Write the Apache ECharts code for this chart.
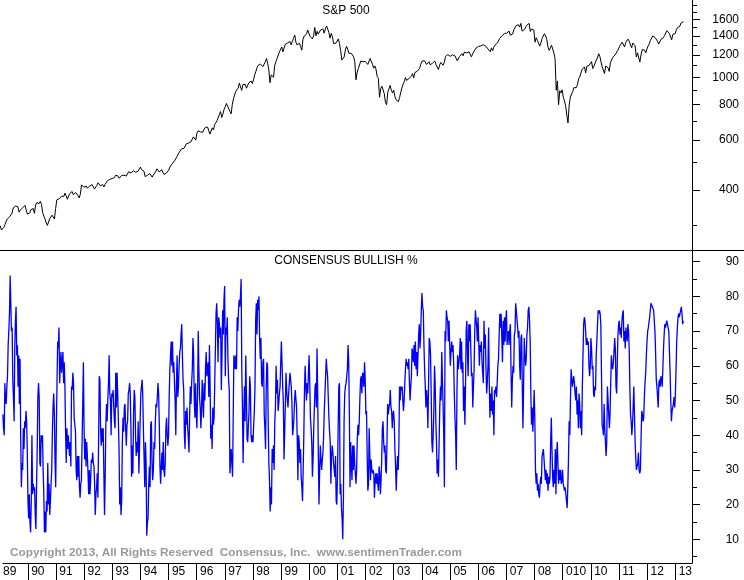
<!DOCTYPE html>
<html><head><meta charset="utf-8">
<script src="https://cdn.jsdelivr.net/npm/echarts@6/dist/echarts.min.js"></script>
<style>html,body{margin:0;padding:0;background:#fff}#c{width:744px;height:580px}</style>
</head><body><div id="c"></div>
<script>
// S&P 500, semi-monthly (mid-month, month-end) from mid-Feb 1989 to mid-Apr 2013
const spStart = 1989.125;
const spStep = 1 / 24;
const spValues = [
299,289,292,295,302,310,316,321,322,318,331,346,346,351,346,349,334,340,341,346,351,353,
340,329,333,332,341,340,344,331,354,361,363,358,365,356,333,323,316,306,300,304,317,322,326,330,
316,344,369,367,373,375,380,375,380,390,381,371,381,388,385,395,385,388,392,392,382,375,387,417,
418,409,413,413,406,404,413,415,418,415,403,408,415,424,419,414,419,418,410,419,422,431,433,436,
435,439,434,443,451,452,448,440,440,450,447,451,446,448,452,464,461,459,465,468,463,462,463,466,
474,482,472,467,466,446,446,451,455,457,458,444,452,458,465,475,468,463,469,472,462,454,455,459,
465,470,482,487,495,501,507,515,525,533,544,545,559,562,561,562,583,584,586,582,592,605,616,616,
600,636,647,640,641,646,640,654,665,669,667,671,630,640,663,652,680,687,702,705,738,757,721,741,
770,786,808,791,789,757,743,801,841,848,893,885,916,954,925,899,942,947,944,915,928,955,963,970,
950,980,1020,1049,1080,1102,1110,1112,1108,1091,1098,1134,1165,1121,1063,957,1020,1017,1000,1099,1136,1164,1180,1229,
1243,1280,1230,1238,1307,1286,1322,1335,1338,1302,1340,1373,1410,1329,1300,1320,1320,1283,1247,1363,1397,1389,1420,1469,
1465,1394,1388,1366,1400,1499,1400,1452,1420,1421,1470,1455,1480,1431,1480,1518,1480,1437,1374,1429,1390,1315,1320,1320,
1320,1366,1315,1240,1150,1160,1180,1249,1285,1256,1215,1224,1215,1211,1180,1134,980,1041,1073,1060,1140,1139,1135,1148,
1138,1130,1110,1107,1165,1147,1111,1077,1097,1067,1007,990,850,912,930,916,875,815,800,886,910,936,900,880,
901,856,834,841,820,848,885,917,946,964,998,975,990,990,990,1008,1030,996,1039,1051,1050,1058,1075,1112,
1139,1131,1145,1145,1110,1126,1135,1107,1090,1121,1130,1141,1106,1102,1065,1104,1128,1115,1103,1130,1184,1174,1203,1212,
1185,1181,1200,1204,1190,1181,1143,1157,1185,1192,1211,1191,1227,1234,1220,1220,1230,1229,1180,1207,1232,1249,1268,1248,
1285,1280,1290,1281,1303,1295,1290,1311,1260,1270,1230,1270,1240,1277,1298,1304,1320,1336,1369,1378,1401,1401,1427,1418,
1431,1438,1456,1407,1387,1421,1472,1482,1522,1531,1533,1503,1549,1455,1445,1474,1484,1527,1549,1549,1451,1481,1490,1468,
1330,1379,1350,1331,1288,1323,1370,1386,1425,1400,1360,1280,1245,1267,1298,1283,1220,1165,900,969,800,896,880,903,
850,826,790,735,690,798,850,873,890,919,925,919,940,987,1005,1021,1068,1057,1087,1036,1094,1096,1102,1115,
1136,1074,1094,1104,1150,1169,1212,1187,1135,1089,1090,1031,1096,1102,1080,1049,1125,1141,1176,1183,1200,1181,1240,1258,
1290,1286,1330,1327,1280,1326,1320,1364,1340,1345,1270,1321,1316,1292,1180,1219,1216,1131,1200,1253,1250,1247,1220,1258,
1290,1312,1350,1366,1400,1408,1380,1398,1340,1310,1330,1362,1360,1379,1405,1407,1460,1441,1430,1412,1355,1416,1420,1426,
1472,1498,1520,1515,1555,1569,1570
];

// Consensus Bullish %, evenly spaced from Feb 1989 to Apr 2013
const bullStart = 1989.116;
const bullEnd = 2013.286;
const bullValues = [
46,42,40,55,50,49,54,57,66,70,75,86,78,70,71,56,51,44,65,73,77,63,66,54,63,49,62,39,25,32,30,42,36,44,42,47,44,35,21,16,23,15,12,21,40,23,26,24,25,17,13,25,36,51,55,51,32,31,40,38,40,30,23,12,18,12,21,18,32,20,26,17,21,26,30,41,48,52,46,33,25,42,55,67,65,71,55,60,64,58,61,64,55,61,54,41,32,42,36,40,37,34,38,31,54,53,58,55,45,43,41,30,27,34,28,34,25,22,26,27,38,49,61,42,33,39,31,38,34,29,23,30,23,27,33,32,35,32,31,26,17,23,25,29,22,38,57,56,42,37,42,38,42,29,17,28,43,49,44,50,55,63,52,50,40,52,51,53,48,44,42,58,48,
58,52,44,36,20,25,17,21,38,45,41,48,49,42,37,43,44,52,53,55,52,42,28,37,29,46,53,51,40,34,38,35,44,29,36,44,52,54,56,51,41,33,25,38,32,11,15,16,26,31,25,43,44,32,27,30,38,36,44,49,48,51,55,52,43,31,26,31,35,30,38,30,28,32,42,45,40,37,40,51,59,63,67,60,67,58,61,55,50,40,55,63,51,54,60,64,65,69,72,63,56,53,40,36,47,43,48,42,39,35,46,54,49,55,59,68,63,50,45,55,46,42,52,70,59,51,48,42,47,56,50,45,55,50,59,64,57,59,61,51,66,54,39,43,36,48,43,45,55,65,75,78,72,61,74,72,68,71,53,63,76,69,79,83,57,71,69,74,62,56,53,29,29,36,
36,28,45,63,62,59,63,59,74,70,76,79,77,80,85,59,48,32,45,54,44,63,52,39,38,43,47,57,54,40,38,40,38,43,47,54,73,78,69,79,76,80,68,62,68,55,54,61,62,46,42,36,53,61,60,44,32,27,18,25,20,36,32,37,30,44,48,60,52,56,47,49,52,54,61,67,67,54,49,33,41,49,58,53,50,48,52,55,58,56,54,49,40,42,45,50,53,53,48,39,27,40,38,32,36,28,25,21,30,40,53,60,54,50,55,52,58,63,55,45,42,38,28,33,42,48,54,55,48,65,52,34,20,30,37,33,30,33,35,40,47,52,57,62,59,57,51,45,41,38,26,34,37,35,32,30,28,34,21,20,29,42,54,55,23,26,19,16,10,22,44,52,54,55,
55,59,66,61,46,25,38,32,27,37,30,37,32,29,26,30,39,43,40,44,51,56,57,52,58,57,54,61,56,46,47,34,24,26,42,34,27,33,30,29,30,29,22,27,29,26,29,26,24,31,29,23,27,33,42,44,38,35,37,30,29,38,49,46,48,49,53,48,47,42,46,47,44,36,31,24,30,34,30,37,54,50,54,53,54,50,47,50,55,59,62,60,61,59,62,55,50,54,57,65,64,61,66,60,67,59,64,57,63,69,72,65,69,76,81,77,76,66,59,54,48,53,50,42,55,68,67,63,52,38,35,40,47,60,55,44,38,29,33,28,38,48,54,50,64,56,49,40,25,70,67,76,74,73,67,73,66,60,64,67,64,66,61,52,45,40,30,52,63,59,61,63,68,59,
67,58,61,47,54,43,54,70,73,63,57,72,67,72,65,57,58,48,54,59,70,76,76,71,67,74,67,60,66,64,67,61,58,55,73,65,69,59,52,55,60,71,55,45,52,47,54,46,50,40,53,52,54,51,55,60,62,69,75,71,75,68,61,73,66,74,67,73,76,66,69,70,66,70,72,58,48,56,60,58,69,70,78,78,78,71,68,70,60,56,68,69,54,42,54,68,63,60,62,69,71,76,77,73,67,52,43,48,41,46,53,45,30,26,29,24,26,23,22,26,28,26,34,35,36,33,30,27,30,26,29,24,28,26,28,38,45,36,28,25,30,26,36,23,34,38,32,26,30,27,30,26,27,30,26,25,24,25,23,21,19,25,33,44,40,50,59,59,54,54,57,55,52,50,
54,46,50,42,52,49,42,47,40,54,63,72,74,73,70,66,68,66,67,60,57,60,68,65,59,60,52,51,54,53,63,67,72,76,75,76,75,72,58,43,42,40,49,42,38,34,38,54,54,46,42,46,55,63,60,59,61,64,68,65,54,52,61,69,72,73,69,71,68,73,75,76,67,70,65,71,69,67,72,70,65,54,46,44,40,43,48,54,46,38,33,30,30,32,35,30,29,30,39,47,46,44,45,51,55,58,63,67,70,71,71,74,76,78,78,78,78,76,73,70,64,56,54,54,48,55,56,54,57,56,54,59,65,69,72,71,71,73,72,72,70,64,58,50,44,47,48,49,51,48,52,59,67,71,74,75,74,75,76,77,75,72,73
];

const yearTicks = [1990,1991,1992,1993,1994,1995,1996,1997,1998,1999,2000,2001,2002,2003,2004,2005,2006,2007,2008,2009,2010,2011,2012,2013];
const yearLabels = ['89','90','91','92','93','94','95','96','97','98','99','00','01','02','03','04','05','06','07','08','010','10','11','12','13'];
const spLabelTicks = [400,600,800,1000,1200,1400,1600];
const spMinorTicks = [300,500,700,900,1100,1300,1500,1700,1800];
const bullLabelTicks = [10,20,30,40,50,60,70,80,90];
const bullMinorTicks = [5,15,25,35,45,55,65,75,85];

const X_MIN = 1989.1157, X_MAX = 2013.5948;
const SP_MIN = 245.6, SP_MAX = 1874;
const BULL_MIN = 3.17, BULL_MAX = 93.37;
const FONT = 'Arial, "Liberation Sans", sans-serif';

const spData = spValues.map((v, i) => [spStart + i * spStep, v]);
const bullStep = (bullEnd - bullStart) / (bullValues.length - 1);
const bullData = bullValues.map((v, i) => [bullStart + i * bullStep, v]);

const L10 = Math.log10;
const chart = echarts.init(document.getElementById('c'), null, {renderer: 'canvas'});

chart.setOption({
  animation: false,
  backgroundColor: '#fff',
  grid: [
    {left: 0, top: 0, width: 692, height: 250},
    {left: 0, top: 250, width: 692, height: 313}
  ],
  xAxis: [
    {gridIndex: 0, type: 'value', min: X_MIN, max: X_MAX, show: false},
    {gridIndex: 1, type: 'value', min: X_MIN, max: X_MAX,
     axisLine: {show: true, onZero: false, lineStyle: {color: '#000', width: 1}},
     axisTick: {show: true, customValues: yearTicks, length: 18, lineStyle: {color: '#000', width: 1}},
     axisLabel: {show: true, customValues: [1989].concat(yearTicks).map(y => y + 0.12),
       formatter: v => yearLabels[Math.round(v - 0.12) - 1989],
       align: 'left', margin: 3, fontSize: 12, fontFamily: FONT, color: '#000'},
     splitLine: {show: false}}
  ],
  yAxis: [
    {gridIndex: 0, type: 'log', position: 'right', min: SP_MIN, max: SP_MAX,
     axisLine: {show: true, lineStyle: {color: '#000', width: 1}},
     axisTick: {show: false}, axisLabel: {show: false}, splitLine: {show: false}},
    {gridIndex: 0, type: 'value', position: 'right', min: L10(SP_MIN), max: L10(SP_MAX),
     axisLine: {show: false},
     axisTick: {show: true, customValues: spLabelTicks.map(L10), length: 8, lineStyle: {color: '#000'}},
     axisLabel: {show: true, customValues: spLabelTicks.map(L10),
       formatter: v => String(Math.round(Math.pow(10, v))),
       align: 'right', margin: 47, fontSize: 12, fontFamily: FONT, color: '#000'},
     splitLine: {show: false}},
    {gridIndex: 0, type: 'value', position: 'right', min: L10(SP_MIN), max: L10(SP_MAX),
     axisLine: {show: false},
     axisTick: {show: true, customValues: spMinorTicks.map(L10), length: 5, lineStyle: {color: '#000'}},
     axisLabel: {show: false}, splitLine: {show: false}},
    {gridIndex: 1, type: 'value', position: 'right', min: BULL_MIN, max: BULL_MAX,
     axisLine: {show: true, lineStyle: {color: '#000', width: 1}},
     axisTick: {show: true, customValues: bullLabelTicks, length: 8, lineStyle: {color: '#000'}},
     axisLabel: {show: true, customValues: bullLabelTicks,
       align: 'right', margin: 47, fontSize: 12, fontFamily: FONT, color: '#000'},
     splitLine: {show: false}},
    {gridIndex: 1, type: 'value', position: 'right', min: BULL_MIN, max: BULL_MAX,
     axisLine: {show: false},
     axisTick: {show: true, customValues: bullMinorTicks, length: 5, lineStyle: {color: '#000'}},
     axisLabel: {show: false}, splitLine: {show: false}}
  ],
  series: [
    {type: 'line', xAxisIndex: 0, yAxisIndex: 0, data: spData, showSymbol: false, symbol: 'none',
     lineStyle: {color: '#000', width: 1}, clip: true, silent: true},
    {type: 'line', xAxisIndex: 1, yAxisIndex: 3, data: bullData, showSymbol: false, symbol: 'none',
     lineStyle: {color: '#0000ff', width: 1.3}, clip: true, silent: true}
  ],
  graphic: [
    {type: 'line', silent: true, shape: {x1: 0, y1: 250.5, x2: 744, y2: 250.5}, style: {stroke: '#000', lineWidth: 1}},
    {type: 'text', silent: true, x: 346, y: 11, style: {text: 'S&P 500', font: '12px ' + FONT, fill: '#000', textAlign: 'center', textVerticalAlign: 'middle'}},
    {type: 'text', silent: true, x: 346, y: 261, style: {text: 'CONSENSUS BULLISH %', font: '12px ' + FONT, fill: '#000', textAlign: 'center', textVerticalAlign: 'middle'}},
    {type: 'text', silent: true, x: 10, y: 553, style: {text: 'Copyright 2013, All Rights Reserved  Consensus, Inc.  www.sentimenTrader.com', font: 'bold 11.8px ' + FONT, fill: '#999999', textAlign: 'left', textVerticalAlign: 'middle'}}
  ]
});
</script>
</body></html>
